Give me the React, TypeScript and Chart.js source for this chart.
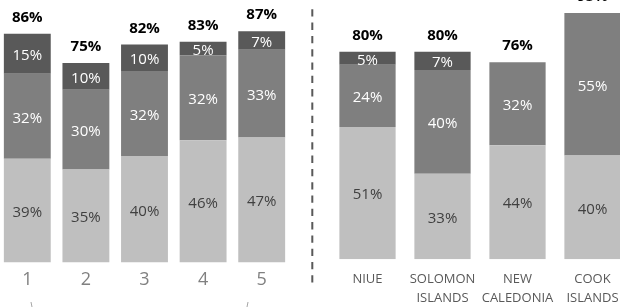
import React, { useEffect, useRef } from "react";
import { Chart, registerables } from "chart.js";
Chart.register(...registerables);

const leftCategories = ["1", "2", "3", "4", "5"];
const leftBottom = [39, 35, 40, 46, 47];
const leftMiddle = [32, 30, 32, 32, 33];
const leftTop = [15, 10, 10, 5, 7];

const rightCategories = [["NIUE"], ["SOLOMON", "ISLANDS"], ["NEW", "CALEDONIA"], ["COOK", "ISLANDS"]];
const rightBottom = [51, 33, 44, 40];
const rightMiddle = [24, 40, 32, 55];
const rightTop = [5, 7, 0, 0];

const COLORS = ["#BFBFBF", "#7F7F7F", "#595959"];
const LABEL_COLORS = ["#404040", "#FFFFFF", "#FFFFFF"];
const FONT = "'Open Sans', sans-serif";

const labelPlugin = {
  id: "segLabels",
  afterDatasetsDraw(chart: any) {
    const ctx = chart.ctx;
    const n = chart.data.labels.length;
    ctx.save();
    ctx.textAlign = "center";
    ctx.textBaseline = "middle";
    for (let i = 0; i < n; i++) {
      let topY = Infinity;
      let x = 0;
      let total = 0;
      chart.data.datasets.forEach((ds: any, di: number) => {
        const el = chart.getDatasetMeta(di).data[i];
        const v = ds.data[i];
        total += v;
        if (!v) return;
        x = el.x;
        topY = Math.min(topY, el.y);
        ctx.font = `15px ${FONT}`;
        ctx.fillStyle = LABEL_COLORS[di];
        ctx.fillText(`${v}%`, el.x, (el.y + el.base) / 2 + 2);
      });
      ctx.font = `bold 15px ${FONT}`;
      ctx.fillStyle = "#000000";
      ctx.fillText(`${total}%`, x, topY - 16);
    }
    ctx.restore();
  },
};

type Props = {
  cats: any[];
  bottom: number[];
  middle: number[];
  top: number[];
  width: number;
  height: number;
  left: number;
  topPos: number;
  barPct: number;
  tickSize: number;
  tickLine: number;
  tickColor: string;
  tickPadding: number;
  max: number;
};

function StackChart(p: Props) {
  const ref = useRef<HTMLCanvasElement>(null);
  useEffect(() => {
    if (!ref.current) return;
    const chart = new Chart(ref.current, {
      type: "bar",
      data: {
        labels: p.cats,
        datasets: [p.bottom, p.middle, p.top].map((d, i) => ({
          data: d,
          backgroundColor: COLORS[i],
          borderWidth: 0,
          categoryPercentage: 1,
          barPercentage: p.barPct,
        })),
      },
      options: {
        animation: false,
        responsive: false,
        maintainAspectRatio: false,
        devicePixelRatio: 1,
        layout: { padding: 0 },
        plugins: { legend: { display: false }, tooltip: { enabled: false } },
        scales: {
          x: {
            stacked: true,
            grid: { display: false, drawTicks: false },
            border: { display: false },
            ticks: {
              font: { family: FONT, size: p.tickSize, lineHeight: p.tickLine },
              color: p.tickColor,
              padding: p.tickPadding,
              maxRotation: 0,
              minRotation: 0,
              autoSkip: false,
            },
          },
          y: { stacked: true, display: false, min: 0, max: p.max },
        },
      } as any,
      plugins: [labelPlugin],
    });
    return () => chart.destroy();
  }, []);
  return (
    <canvas
      ref={ref}
      width={p.width}
      height={p.height}
      style={{ position: "absolute", left: p.left, top: p.topPos, width: p.width, height: p.height }}
    />
  );
}

export default function App() {
  return (
    <div
      style={{
        position: "fixed",
        left: 0,
        top: 0,
        width: 620,
        height: 307,
        overflow: "hidden",
        background: "#ffffff",
      }}
    >
      <StackChart
        cats={leftCategories}
        bottom={leftBottom}
        middle={leftMiddle}
        top={leftTop}
        width={293}
        height={300}
        left={-2}
        topPos={-2}
        barPct={0.8}
        tickSize={18}
        tickLine={1.2}
        tickColor="#808080"
        tickPadding={7}
        max={99.5}
      />
      <StackChart
        cats={rightCategories}
        bottom={rightBottom}
        middle={rightMiddle}
        top={rightTop}
        width={300}
        height={318}
        left={330}
        topPos={0}
        barPct={0.75}
        tickSize={13}
        tickLine={1.415}
        tickColor="#595959"
        tickPadding={11}
        max={100}
      />
      <svg
        width={620}
        height={307}
        style={{ position: "absolute", left: 0, top: 0, pointerEvents: "none" }}
      >
        <line x1={312.3} y1={9.3} x2={312.3} y2={285} stroke="#595959" strokeWidth={2} strokeDasharray="7.3 6" />
        <line x1={31} y1={302} x2={32} y2={307} stroke="#A6A6A6" strokeWidth={1} />
        <line x1={248} y1={302} x2={247} y2={307} stroke="#A6A6A6" strokeWidth={1} />
      </svg>
    </div>
  );
}
